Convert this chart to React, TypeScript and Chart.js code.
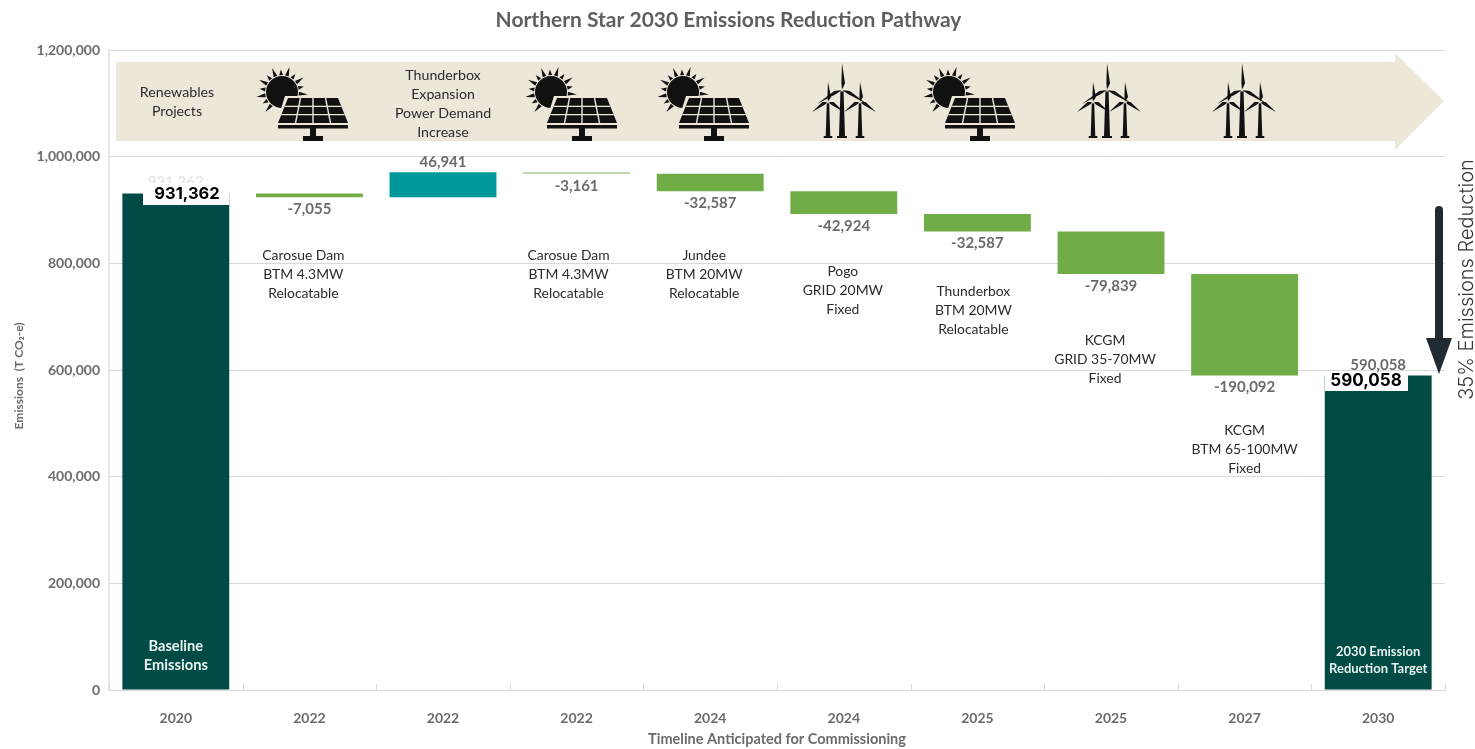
import React, { useEffect, useRef } from "react";
import { Chart, registerables } from "chart.js";

Chart.register(...registerables);

const categories = ["2020", "2022", "2022", "2022", "2024", "2024", "2025", "2025", "2027", "2030"];
const barLows = [0, 924307, 924307, 968087, 935500, 892576, 859989, 780150, 590058, 0];
const barHighs = [931362, 931362, 971248, 971248, 968087, 935500, 892576, 859989, 780150, 590058];
const valueLabels = ["931,362", "-7,055", "46,941", "-3,161", "-32,587", "-42,924", "-32,587", "-79,839", "-190,092", "590,058"];
const projectNotes: string[][] = [
  [],
  ["Carosue Dam", "BTM 4.3MW", "Relocatable"],
  [],
  ["Carosue Dam", "BTM 4.3MW", "Relocatable"],
  ["Jundee", "BTM 20MW", "Relocatable"],
  ["Pogo", "GRID 20MW", "Fixed"],
  ["Thunderbox", "BTM 20MW", "Relocatable"],
  ["KCGM", "GRID 35-70MW", "Fixed"],
  ["KCGM", "BTM 65-100MW", "Fixed"],
  [],
];

const noteFirstLineY = [0, 255, 0, 255, 255, 271, 291, 340, 430, 0];
const noteShiftX = [0, -6, 0, -8, -6, -1, -4, -6, 0, 0];
const barColors = ["#004b46", "#70ad47", "#00989a", "#a5cc8c", "#70ad47", "#70ad47", "#70ad47", "#70ad47", "#70ad47", "#004b46"];
const solarIconX = [313, 582, 714, 980];
const windIconX = [843, 1108, 1243];

const LABEL = "#6b6b6b";
const NOTE = "#2b2b2b";
const BANNER = "#ece7d8";
const ICON = "#111111";

function centered(ctx: CanvasRenderingContext2D, lines: string[], x: number, y: number, gap: number) {
  lines.forEach((l, i) => ctx.fillText(l, x, y + i * gap));
}

function drawSolar(ctx: CanvasRenderingContext2D, cx: number) {
  const sx = cx - 31, sy = 92;
  ctx.save();
  ctx.fillStyle = ICON;
  const rays = 13;
  for (let i = 0; i < rays; i++) {
    const a = Math.PI * 0.72 + (i / (rays - 1)) * Math.PI * 1.31;
    const p = 0.115;
    const r0 = 17, r1 = i % 2 ? 22.5 : 26;
    ctx.beginPath();
    ctx.moveTo(sx + Math.cos(a - p) * r0, sy + Math.sin(a - p) * r0);
    ctx.lineTo(sx + Math.cos(a) * r1, sy + Math.sin(a) * r1);
    ctx.lineTo(sx + Math.cos(a + p) * r0, sy + Math.sin(a + p) * r0);
    ctx.fill();
  }
  ctx.beginPath();
  ctx.arc(sx, sy, 16, 0, Math.PI * 2);
  ctx.fill();
  // halo of the panel over the sun
  ctx.fillStyle = BANNER;
  ctx.beginPath();
  ctx.moveTo(cx - 28, 96);
  ctx.lineTo(cx + 28, 96);
  ctx.lineTo(cx + 38, 128);
  ctx.lineTo(cx - 38, 128);
  ctx.fill();
  // panel
  const tl = cx - 25, tr = cx + 25, bl = cx - 35, br = cx + 35, ty = 98, by = 123;
  ctx.fillStyle = ICON;
  ctx.beginPath();
  ctx.moveTo(tl, ty);
  ctx.lineTo(tr, ty);
  ctx.lineTo(br, by);
  ctx.lineTo(bl, by);
  ctx.fill();
  ctx.strokeStyle = BANNER;
  ctx.lineWidth = 1.4;
  for (let i = 1; i < 4; i++) {
    ctx.beginPath();
    ctx.moveTo(tl + ((tr - tl) * i) / 4, ty);
    ctx.lineTo(bl + ((br - bl) * i) / 4, by);
    ctx.stroke();
  }
  for (let j = 1; j < 3; j++) {
    const f = j / 3;
    ctx.beginPath();
    ctx.moveTo(tl + (bl - tl) * f, ty + (by - ty) * f);
    ctx.lineTo(tr + (br - tr) * f, ty + (by - ty) * f);
    ctx.stroke();
  }
  ctx.fillStyle = ICON;
  ctx.fillRect(cx - 35, 125, 70, 3.5);
  ctx.fillRect(cx - 3, 128, 6, 9);
  ctx.fillRect(cx - 10, 136, 20, 5);
  ctx.restore();
}

function blade(ctx: CanvasRenderingContext2D, hx: number, hy: number, tx: number, ty: number, w: number) {
  const dx = tx - hx, dy = ty - hy;
  const len = Math.hypot(dx, dy);
  const nx = -dy / len, ny = dx / len;
  const mx = hx + dx * 0.25, my = hy + dy * 0.25;
  ctx.beginPath();
  ctx.moveTo(hx, hy);
  ctx.lineTo(mx + nx * w, my + ny * w);
  ctx.lineTo(tx, ty);
  ctx.lineTo(mx - nx * w * 0.2, my - ny * w * 0.2);
  ctx.closePath();
  ctx.fill();
}

function turbine(ctx: CanvasRenderingContext2D, x: number, hubY: number, up: number, reach: number, drop: number, halfBase: number) {
  ctx.beginPath();
  ctx.moveTo(x - halfBase * 0.5, hubY);
  ctx.lineTo(x + halfBase * 0.5, hubY);
  ctx.lineTo(x + halfBase, 136);
  ctx.lineTo(x - halfBase, 136);
  ctx.fill();
  ctx.fillRect(x - halfBase - 2, 136, halfBase * 2 + 4, 2);
  blade(ctx, x, hubY, x, hubY - up, 3);
  blade(ctx, x, hubY, x - reach, hubY + drop, 3);
  blade(ctx, x, hubY, x + reach, hubY + drop, -3);
  ctx.save();
  ctx.fillStyle = "#d8d4c6";
  ctx.beginPath();
  ctx.arc(x, hubY, 1.6, 0, Math.PI * 2);
  ctx.fill();
  ctx.restore();
}

function drawWind(ctx: CanvasRenderingContext2D, cx: number) {
  ctx.save();
  ctx.fillStyle = ICON;
  turbine(ctx, cx - 15, 102, 20, 16, 10, 2.3);
  turbine(ctx, cx + 17, 102, 20, 16, 10, 2.3);
  turbine(ctx, cx - 1, 90, 27, 25, 14, 3);
  ctx.restore();
}

const overlayPlugin = {
  id: "overlay",
  beforeDatasetsDraw(chart: any) {
    const { ctx } = chart;
    // banner arrow
    ctx.save();
    ctx.fillStyle = BANNER;
    ctx.beginPath();
    ctx.moveTo(116, 62);
    ctx.lineTo(1395, 62);
    ctx.lineTo(1395, 53);
    ctx.lineTo(1444, 101);
    ctx.lineTo(1395, 150);
    ctx.lineTo(1395, 141);
    ctx.lineTo(116, 141);
    ctx.closePath();
    ctx.fill();
    solarIconX.forEach((x) => drawSolar(ctx, x));
    windIconX.forEach((x) => drawWind(ctx, x));
    ctx.fillStyle = NOTE;
    ctx.font = "14.2px Lato";
    ctx.textAlign = "center";
    ctx.textBaseline = "middle";
    centered(ctx, ["Renewables", "Projects"], 177, 92, 19.5);
    centered(ctx, ["Thunderbox", "Expansion", "Power Demand", "Increase"], 443, 75.5, 19);
    ctx.restore();
  },
  afterDatasetsDraw(chart: any) {
    const { ctx, scales } = chart;
    const xs = scales.x;
    const meta = chart.getDatasetMeta(0);
    const step = xs.getPixelForValue(1) - xs.getPixelForValue(0);
    ctx.save();
    ctx.textAlign = "center";
    ctx.textBaseline = "middle";

    // category tick marks, pointing up into the plot
    ctx.strokeStyle = "#d9d9d9";
    ctx.lineWidth = 1;
    for (let i = 0; i <= categories.length; i++) {
      const x = Math.round(xs.getPixelForValue(0) - step / 2 + i * step) + 0.5;
      ctx.beginPath();
      ctx.moveTo(x, chart.chartArea.bottom);
      ctx.lineTo(x, chart.chartArea.bottom - 6);
      ctx.stroke();
    }

    // value labels
    ctx.font = "bold 15px Lato";
    meta.data.forEach((el: any, i: number) => {
      const positive = i === 0 || i === 2 || i === 9;
      const y = positive ? el.y - 10 : el.base + 12;
      ctx.fillStyle = i === 0 ? "#e8e8e8" : LABEL;
      ctx.fillText(valueLabels[i], el.x, i === 0 ? y - 1 : y);
    });

    // notes below the bars
    ctx.font = "13.9px Lato";
    ctx.fillStyle = NOTE;
    projectNotes.forEach((lines, i) => {
      centered(ctx, lines, meta.data[i].x + noteShiftX[i], noteFirstLineY[i] + 0.5, 19);
    });

    // labels inside the total bars
    ctx.fillStyle = "#e8f2ef";
    ctx.font = "bold 14.7px Lato";
    centered(ctx, ["Baseline", "Emissions"], meta.data[0].x, 646, 19);
    ctx.font = "bold 13px Lato";
    centered(ctx, ["2030 Emission", "Reduction Target"], meta.data[9].x, 652, 17);

    // white callouts over the totals
    ctx.fillStyle = "#ffffff";
    ctx.fillRect(143, 183, 86, 22);
    ctx.fillRect(1325, 373, 83, 18);
    ctx.fillStyle = "#000000";
    ctx.font = "700 16.5px Inter";
    ctx.fillText(valueLabels[0], 187, 194);
    ctx.font = "700 17px Inter";
    ctx.fillText(valueLabels[9], 1366, 381);

    // reduction arrow
    ctx.strokeStyle = "#1f2a33";
    ctx.fillStyle = "#1f2a33";
    ctx.lineWidth = 8;
    ctx.lineCap = "round";
    ctx.beginPath();
    ctx.moveTo(1439, 210);
    ctx.lineTo(1439, 340);
    ctx.stroke();
    ctx.beginPath();
    ctx.moveTo(1426, 338);
    ctx.lineTo(1452, 338);
    ctx.lineTo(1439, 374);
    ctx.closePath();
    ctx.fill();

    ctx.translate(1466.5, 279.5);
    ctx.rotate(-Math.PI / 2);
    ctx.fillStyle = "#33373b";
    ctx.font = "300 20px Inter";
    ctx.fillText("35% Emissions Reduction", 0, 0);
    ctx.restore();
  },
};

export default function App() {
  const ref = useRef<HTMLCanvasElement>(null);
  useEffect(() => {
    const chart = new Chart(ref.current!, {
      type: "bar",
      plugins: [overlayPlugin],
      data: {
        labels: categories,
        datasets: [
          {
            data: barLows.map((low, i) => [low, barHighs[i]]),
            backgroundColor: barColors,
            borderWidth: 0,
            barPercentage: 0.8,
            categoryPercentage: 1,
          },
        ],
      },
      options: {
        responsive: false,
        animation: false,
        layout: { padding: { left: 12, right: 30, top: 0, bottom: 0 } },
        plugins: {
          legend: { display: false },
          tooltip: { enabled: false },
          title: {
            display: true,
            text: "Northern Star 2030 Emissions Reduction Pathway",
            color: "#5f5f5f",
            font: { family: "Lato", size: 21, weight: "bold" },
            padding: { top: 8, bottom: 17 },
          },
        },
        scales: {
          x: {
            grid: { display: false },
            border: { color: "#d9d9d9", width: 1 },
            afterFit: (s: any) => { s.height = 59; },
            ticks: { color: LABEL, font: { family: "Lato", size: 14, weight: "bold" }, padding: 12, maxRotation: 0 },
            title: {
              display: true,
              text: "Timeline Anticipated for Commissioning",
              color: LABEL,
              font: { family: "Lato", size: 14.5, weight: "bold" },
              padding: { top: 0, bottom: 1 },
            },
          },
          y: {
            min: 0,
            max: 1200000,
            afterFit: (s: any) => { s.width = 97; },
            grid: { color: "#d9d9d9", lineWidth: 1, drawTicks: false },
            border: { color: "#e6e6e6", width: 2 },
            ticks: {
              stepSize: 200000,
              color: LABEL,
              padding: 9,
              font: { family: "Lato", size: 14, weight: "bold" },
              callback: (v: any) => Number(v).toLocaleString("en-US"),
            },
            title: {
              display: true,
              text: "Emissions  (T CO₂-e)    ",
              color: LABEL,
              font: { family: "Lato", size: 12, weight: "bold" },
              padding: 0,
            },
          },
        },
      },
    } as any);
    return () => chart.destroy();
  }, []);
  return (
    <div style={{ position: "absolute", left: 0, top: 0, width: 1475, height: 749, background: "#fff" }}>
      <canvas ref={ref} width={1475} height={749} style={{ display: "block" }} />
    </div>
  );
}
